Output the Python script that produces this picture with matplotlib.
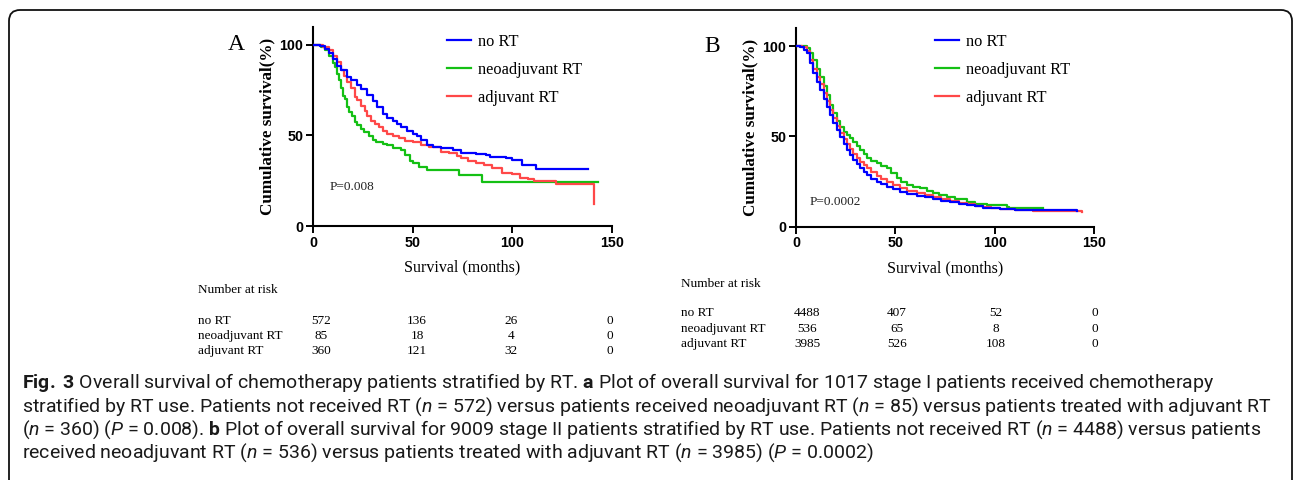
import matplotlib
matplotlib.use("Agg")
import matplotlib.pyplot as plt
import matplotlib.patches as mpatches
from matplotlib.lines import Line2D

# ---- data ----
groups = ["no RT", "neoadjuvant RT", "adjuvant RT"]
colors = ["#0000ff", "#14c014", "#ff4848"]

# panel A (stage I)
a_no_t = [0, 3.7, 6, 8, 10, 12, 14, 17, 19, 22, 24, 27, 30, 32, 35, 37, 40, 42, 44, 47, 50, 52, 54, 57,
          60, 64, 70, 74, 77, 82, 87, 89, 95, 97, 100, 105, 112, 138]
a_no_s = [100, 99.5, 98, 95.5, 92, 88.5, 86, 82.5, 80.5, 78, 75.5, 72.5, 69, 66, 62, 59.5, 58, 56.5, 54.5, 52.5, 51, 49.5, 47.5, 45,
          43.8, 43, 42, 40.5, 40.1, 39.8, 39.2, 38.3, 37.9, 37.4, 36.5, 33.7, 31.3, 31.3]
a_neo_t = [0, 4, 6, 8, 10, 11, 12, 13, 14, 15, 16, 17, 18, 19.5, 21, 22, 24, 25.5, 28, 30, 31.5, 35, 37, 40,
           44, 46, 48.7, 50, 53, 57, 73, 85, 143]
a_neo_s = [100, 99, 97.5, 94, 90, 88, 84, 80.5, 76, 72, 70, 66, 63, 60.5, 57.5, 55.8, 53.5, 52, 49.5, 47.5, 46.5, 45.5, 44.8, 43,
           42, 39.2, 36, 34.6, 32.6, 31, 28.2, 24.1, 24.1]
a_adj_t = [0, 5, 8, 10, 12, 14, 15.5, 17, 19, 21, 22, 24, 26, 27, 29, 31, 33, 35, 37, 40, 43, 46, 50, 54,
           58, 64, 68, 72, 74, 78, 82, 86, 90, 95, 100, 104, 108, 111, 122, 141, 141]
a_adj_s = [100, 99, 97, 94, 90.5, 86, 83, 79.5, 76, 71, 69.5, 66.5, 63.5, 61, 58, 56.5, 54.5, 52.5, 51, 49.8, 48.5, 47.2, 46.2, 44.8,
           43.8, 41, 40.1, 38.5, 37.4, 36, 34.6, 33.5, 32.2, 29.1, 28.5, 26.7, 25.8, 25, 23.2, 23.2, 12]

# panel B (stage II)
b_no_t = [0, 2, 4, 5.4, 7, 8.7, 10.5, 12.1, 14, 15.4, 17, 18.8, 20.5, 22.1, 24, 25.5, 27, 28.9, 30.5, 32.2, 34, 35.6,
          38, 40.6, 43, 45.6, 49, 52.3, 56, 60.7, 65, 69.1, 73, 77.5, 82, 85.9, 90, 94.3, 98, 102.7, 110, 119.5, 130, 141.3]
b_no_s = [100, 99.5, 98, 96, 90.5, 85, 80, 75.6, 70.5, 66.4, 62, 57.2, 53.3, 49.8, 45.8, 42.4, 39.6, 36.9, 34.5, 32.3, 30.3, 28.6,
          26.6, 24.9, 23.4, 22.1, 20.6, 19.4, 18.2, 17.2, 16.2, 15.3, 14.4, 13.5, 12.7, 12, 11.2, 10.5, 10.1, 9.8, 9.5, 9.2, 9.0, 8.9]
b_neo_t = [0, 3, 5.4, 7, 8.7, 10.5, 12.1, 14, 15.4, 17, 18.8, 20.5, 22.1, 24, 25.5, 27, 28.9, 30.5, 32.2, 34, 35.6, 38,
           40.6, 43, 45.6, 48, 50.7, 53, 55.7, 59, 62.4, 66, 69.1, 72, 75.8, 80, 85.9, 90, 96, 106, 107, 124.5]
b_neo_s = [100, 100, 99, 96, 92.3, 87.5, 83, 78, 72.9, 67.5, 62.7, 58.5, 55.4, 52.5, 50.7, 49, 47, 44.5, 42.4, 40, 37.8, 36.3,
           35, 33.5, 32.3, 29.5, 26.8, 24.8, 23.1, 22.2, 21.2, 19.8, 18.5, 17.5, 16.6, 15.2, 13.8, 12.8, 12, 11.1, 10.1, 10.1]
b_adj_t = [0, 3, 5.4, 7, 8.7, 10.5, 12.1, 14, 15.4, 17, 18.8, 20.5, 22.1, 24, 25.5, 27, 28.9, 30.5, 32.2, 34, 35.6, 38,
           40.6, 43, 45.6, 49, 52.3, 56, 60.7, 65, 69.1, 73, 77.5, 82, 85.9, 90, 94.3, 98, 102.7, 110, 119.5, 130, 143.8]
b_adj_s = [100, 99.5, 97.5, 92.5, 87.5, 83, 79, 74, 69.5, 64.8, 60, 56, 52, 48.5, 45.5, 43, 40.5, 38.2, 36, 34.2, 32.5, 30.2,
           28, 26.4, 25, 23.1, 21.5, 20, 18.5, 17.3, 16.2, 15.2, 14.2, 13.3, 12.5, 11.6, 10.8, 10.2, 9.8, 9.3, 8.9, 8.5, 8.2]

# number at risk at 0, 50, 100, 150 months
risk_a = [[572, 136, 26, 0], [85, 18, 4, 0], [360, 121, 32, 0]]
risk_b = [[4488, 407, 52, 0], [536, 65, 8, 0], [3985, 526, 108, 0]]
p_a = "P=0.008"
p_b = "P=0.0002"

caption = [
    r"$\mathbf{Fig.}$ $\mathbf{3}$ Overall survival of chemotherapy patients stratified by RT. $\mathbf{a}$ Plot of overall survival for 1017 stage I patients received chemotherapy",
    r"stratified by RT use. Patients not received RT ($\mathit{n}$ = 572) versus patients received neoadjuvant RT ($\mathit{n}$ = 85) versus patients treated with adjuvant RT",
    r"($\mathit{n}$ = 360) ($\mathit{P}$ = 0.008). $\mathbf{b}$ Plot of overall survival for 9009 stage II patients stratified by RT use. Patients not received RT ($\mathit{n}$ = 4488) versus patients",
    r"received neoadjuvant RT ($\mathit{n}$ = 536) versus patients treated with adjuvant RT ($\mathit{n}$ = 3985) ($\mathit{P}$ = 0.0002)",
]

CAP_FONT = "Roboto"
plt.rcParams["mathtext.fontset"] = "custom"
plt.rcParams["mathtext.rm"] = CAP_FONT
plt.rcParams["mathtext.it"] = CAP_FONT + ":italic"
plt.rcParams["mathtext.bf"] = CAP_FONT + ":bold"

W, H = 1295, 480
fig = plt.figure(figsize=(W / 100, H / 100), dpi=100)

SERIF = "Liberation Serif"
SANS = "Liberation Sans"


def fx(px):
    return px / W


def fy(py):
    return 1 - py / H


def km_panel(left, right, y0, y100, series, letter, letter_xy, p_text, p_xy, leg_xy):
    h100 = y0 - y100
    top = y0 - h100 * 1.10
    ax = fig.add_axes([fx(left), fy(y0), (right - left) / W, (y0 - top) / H])
    # draw green, red, then blue on top
    for i in [1, 2, 0]:
        t, s = series[i]
        ax.plot(t, s, drawstyle="steps-post", color=colors[i], lw=1.6, zorder=3)
    ax.set_xlim(0, 150)
    ax.set_ylim(0, 110)
    ax.set_xticks([0, 50, 100, 150])
    ax.set_yticks([0, 50, 100])
    for sp in ["top", "right"]:
        ax.spines[sp].set_visible(False)
    for sp in ["left", "bottom"]:
        ax.spines[sp].set_linewidth(1.5)
    ax.tick_params(length=5, width=1.4, pad=2)
    for lab in ax.get_xticklabels() + ax.get_yticklabels():
        lab.set_fontfamily(SANS)
        lab.set_fontweight("bold")
        lab.set_fontsize(10.3)
    ax.set_ylabel("Cumulative survival(%)", family=SERIF, weight="bold", fontsize=12.3, labelpad=3)
    ax.set_xlabel("Survival (months)", family=SERIF, fontsize=11.5, labelpad=7)
    handles = [Line2D([], [], color=c, lw=1.6) for c in colors]
    ax.legend(handles, groups, loc="upper left", bbox_to_anchor=leg_xy, frameon=False,
              prop={"family": SERIF, "size": 11.8}, handlelength=1.45, handletextpad=0.45,
              labelspacing=0.74, borderpad=0, borderaxespad=0)
    fig.text(fx(letter_xy[0]), fy(letter_xy[1]), letter, family=SERIF, fontsize=17, ha="left", va="center")
    fig.text(fx(p_xy[0]), fy(p_xy[1]), p_text, family=SERIF, fontsize=9.5, ha="left", va="center", color="#222222")
    return ax


km_panel(313, 612, 226, 45, [(a_no_t, a_no_s), (a_neo_t, a_neo_s), (a_adj_t, a_adj_s)],
         "A", (228, 45), p_a, (330, 187), (0.448, 0.966))
km_panel(796, 1094, 226.7, 46, [(b_no_t, b_no_s), (b_neo_t, b_neo_s), (b_adj_t, b_adj_s)],
         "B", (704, 46), p_b, (810, 202), (0.466, 0.970))


def risk_table(x_lab, y_title, row_ys, col_xs, values):
    fig.text(fx(x_lab), fy(y_title), "Number at risk", family=SERIF, fontsize=9.5, ha="left", va="center")
    for name, ry, vals in zip(groups, row_ys, values):
        fig.text(fx(x_lab), fy(ry), name, family=SERIF, fontsize=9.5, ha="left", va="center")
        for cx, v in zip(col_xs, vals):
            fig.text(fx(cx), fy(ry), str(v), family=SERIF, fontsize=9.5, ha="center", va="center")


risk_table(198, 290, [321, 336, 351], [321, 417, 511, 610], risk_a)
risk_table(681, 284, [313, 329, 344], [807, 897, 996, 1095], risk_b)

for i, line in enumerate(caption):
    fig.text(fx(22), fy(383 + i * 23.4), line, family=CAP_FONT, fontsize=14.0,
             ha="left", va="center", color="#1a1a1a")

# rounded frame around the figure (open at the bottom)
frame = mpatches.FancyBboxPatch((9, -30), 1283, 500, boxstyle="round,pad=0,rounding_size=11",
                                transform=None, fill=False, lw=1.3, ec="#111111")
fig.add_artist(frame)

fig.savefig("out.png", dpi=100)
